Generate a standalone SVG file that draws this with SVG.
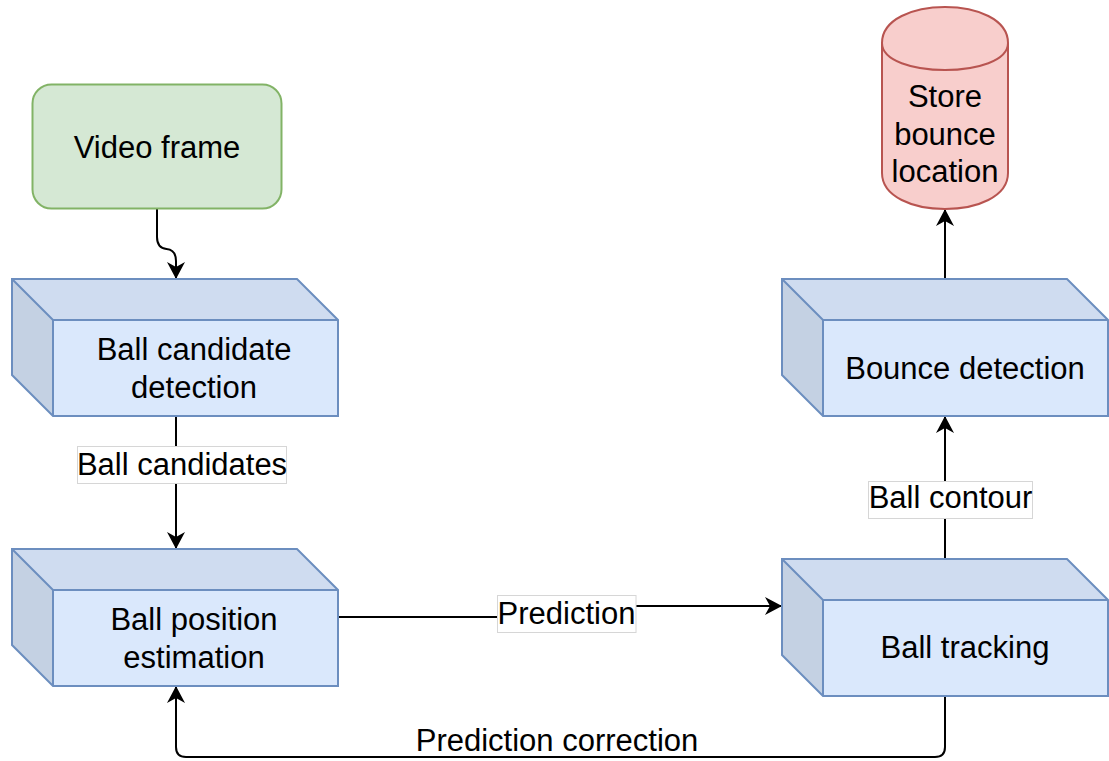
<svg xmlns="http://www.w3.org/2000/svg" width="1109" height="761" viewBox="0 0 1109 761">
  <style>
    text { font-family: "Liberation Sans", Arial, Helvetica, sans-serif; font-size: 31px; fill: #000; text-anchor: middle; }
    .cube-outline { fill: none; stroke: #6c8ebf; stroke-width: 2; stroke-linejoin: miter; }
    .cube-front { fill: #dae8fc; }
    .cube-top { fill: #cfdcf0; }
    .cube-left { fill: #c4d1e3; }
    .cube-edge { fill: none; stroke: #6c8ebf; stroke-width: 2; }
    .edge { fill: none; stroke: #000; stroke-width: 2; }
    .lbl-bg { fill: #fff; stroke: #d6d6d6; stroke-width: 1; }
  </style>
  <defs>
    <marker id="arrow" markerUnits="userSpaceOnUse" markerWidth="17" markerHeight="18" refX="17" refY="9" orient="auto" viewBox="0 0 17 18">
      <path d="M0,0 L17,9 L0,18 L5,9 Z" fill="#000"/>
    </marker>
    <!-- 3D box: 326 x 137 with a 41px bevel -->
    <g id="cube">
      <polygon class="cube-top" points="0,0 285,0 326,41 41,41"/>
      <polygon class="cube-left" points="0,0 41,41 41,137 0,96"/>
      <rect class="cube-front" x="41" y="41" width="285" height="96"/>
      <polygon class="cube-outline" points="0,0 285,0 326,41 326,137 41,137 0,96"/>
      <polyline class="cube-edge" points="0,0 41,41 326,41"/>
      <line class="cube-edge" x1="41" y1="41" x2="41" y2="137"/>
    </g>
  </defs>

  <!-- connectors -->
  <g id="connectors">
    <path class="edge" d="M157,209 V237 Q157,248 166.5,249 Q176,250 176,261 V279" marker-end="url(#arrow)"/>
    <path class="edge" d="M176,416 V549" marker-end="url(#arrow)"/>
    <path class="edge" d="M338,617 H567 V606 H782" marker-end="url(#arrow)"/>
    <path class="edge" d="M945,559 V416" marker-end="url(#arrow)"/>
    <path class="edge" d="M945,279 V209" marker-end="url(#arrow)"/>
    <path class="edge" d="M945,696 V747 Q945,757 935,757 H186 Q176,757 176,747 V686" marker-end="url(#arrow)"/>

    <g id="label-ball-candidates">
      <rect class="lbl-bg" x="77.5" y="446.5" width="209" height="37"/>
      <text x="182" y="474.5">Ball candidates</text>
    </g>
    <g id="label-prediction">
      <rect class="lbl-bg" x="497.5" y="595.5" width="138.5" height="37"/>
      <text x="566.5" y="623.5">Prediction</text>
    </g>
    <g id="label-ball-contour">
      <rect class="lbl-bg" x="868.5" y="481.5" width="164" height="37"/>
      <text x="950.5" y="507.5">Ball contour</text>
    </g>
    <g id="label-prediction-correction">
      <text x="557" y="751">Prediction correction</text>
    </g>
  </g>

  <!-- nodes -->
  <g id="video-frame">
    <rect x="32.5" y="84.5" width="249" height="124" rx="19" ry="19" fill="#d5e8d4" stroke="#82b366" stroke-width="2"/>
    <text x="157" y="158">Video frame</text>
  </g>

  <g id="ball-candidate-detection">
    <use href="#cube" x="12" y="279"/>
    <text x="194" y="360">Ball candidate</text>
    <text x="194" y="398">detection</text>
  </g>

  <g id="ball-position-estimation">
    <use href="#cube" x="12" y="549"/>
    <text x="194" y="630">Ball position</text>
    <text x="194" y="668">estimation</text>
  </g>

  <g id="bounce-detection">
    <use href="#cube" x="782" y="279"/>
    <text x="965" y="379">Bounce detection</text>
  </g>

  <g id="ball-tracking">
    <use href="#cube" x="782" y="559"/>
    <text x="965" y="658">Ball tracking</text>
  </g>

  <g id="store-bounce-location">
    <path d="M882,43 C882,-5 1008,-5 1008,43 L1008,173 C1008,221 882,221 882,173 Z" fill="#f8cecc" stroke="#b85450" stroke-width="2"/>
    <path d="M882,43 C882,79 1008,79 1008,43" fill="none" stroke="#b85450" stroke-width="2"/>
    <text x="945" y="107">Store</text>
    <text x="945" y="145">bounce</text>
    <text x="945" y="182">location</text>
  </g>
</svg>
